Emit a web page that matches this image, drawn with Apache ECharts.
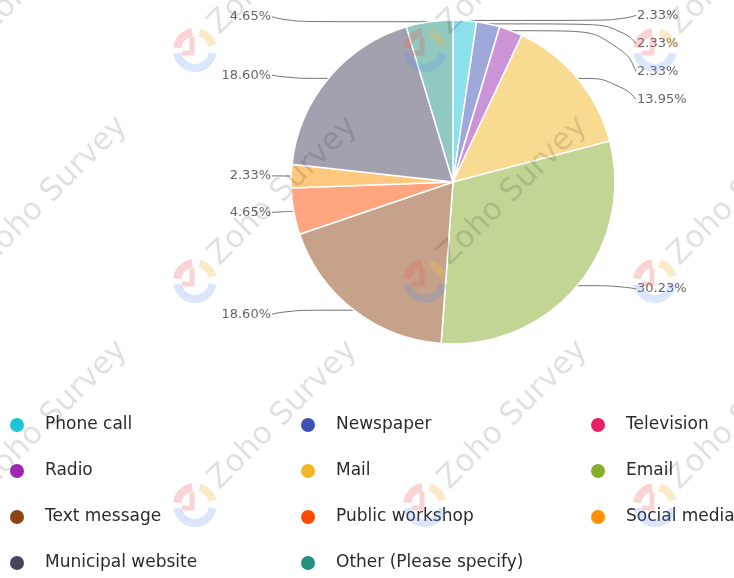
<!DOCTYPE html>
<html><head><meta charset="utf-8">
<script src="https://cdn.jsdelivr.net/npm/echarts@6/dist/echarts.min.js"></script>
<style>html,body{margin:0;padding:0;background:#fff}#c{width:734px;height:578px}</style>
</head><body><div id="c"></div>
<script>
// ---- data ----
const categories = ['Phone call','Newspaper','Television','Radio','Mail','Email','Text message','Public workshop','Social media','Municipal website','Other (Please specify)'];
const percents = [2.33, 2.33, 0, 2.33, 13.95, 30.23, 18.60, 4.65, 2.33, 18.60, 4.65];
const colors = ['#1cc4d8','#3f51b5','#e91e63','#9c27b0','#f4b523','#85ac2a','#8b4513','#ff4c00','#ff9100','#47445f','#249180'];
const legendColumns = [[0,3,6,9],[1,4,7,10],[2,5,8]];
const watermarkText = 'Zoho Survey';

// ---- layout constants ----
const CX = 453, CY = 182, R = 162;
const LEFT_END = 272, RIGHT_END = 636;

function rgba(hex, a){
  const n = parseInt(hex.slice(1),16);
  return 'rgba('+((n>>16)&255)+','+((n>>8)&255)+','+(n&255)+','+a+')';
}

const chart = echarts.init(document.getElementById('c'));

const legends = legendColumns.map((idxs, k) => ({
  orient: 'vertical',
  left: [10, 301, 591][k],
  top: 415,
  height: 170,
  padding: 0,
  icon: 'circle',
  itemWidth: 14,
  itemHeight: 14,
  itemGap: 26,
  selectedMode: false,
  textStyle: {fontSize: 17, fontFamily: 'DejaVu Sans', color: '#2b2b2b', lineHeight: 20, padding: [0,0,0,16]},
  data: idxs.map(i => ({name: categories[i], itemStyle: {color: colors[i], opacity: 1, borderWidth: 0}}))
}));

// watermark decoration
const wm = [];
const wmCols = [-35, 195, 425, 655], wmRows = [50, 281, 505];
wmRows.forEach(y => wmCols.forEach(x => {
  wm.push({type:'arc', silent:true, z:100, shape:{cx:x, cy:y, r:18, startAngle:0.06*Math.PI, endAngle:0.94*Math.PI}, style:{stroke:'rgba(90,140,240,0.22)', lineWidth:8, fill:null}});
  wm.push({type:'arc', silent:true, z:100, shape:{cx:x, cy:y, r:18, startAngle:1.04*Math.PI, endAngle:1.45*Math.PI}, style:{stroke:'rgba(235,90,90,0.26)', lineWidth:8, fill:null}});
  wm.push({type:'arc', silent:true, z:100, shape:{cx:x, cy:y, r:18, startAngle:1.58*Math.PI, endAngle:1.92*Math.PI}, style:{stroke:'rgba(240,190,80,0.32)', lineWidth:8, fill:null}});
  wm.push({type:'polyline', silent:true, z:100, shape:{points:[[x-13,y+3],[x-3,y+3],[x-3,y-13]]}, style:{stroke:'rgba(235,90,90,0.26)', lineWidth:5, fill:null}});
  wm.push({type:'text', silent:true, z:100, x:x+88, y:y-90, rotation:Math.PI/4,
    style:{text: watermarkText, font:'31px "DejaVu Sans"', fill:'rgba(0,0,0,0.12)', align:'center', verticalAlign:'middle', textAlign:'center', textVerticalAlign:'middle'}});
}));

chart.setOption({
  backgroundColor: '#ffffff',
  animation: false,
  legend: legends,
  graphic: {elements: wm},
  series: [{
    type: 'pie',
    center: [CX, CY],
    radius: R,
    startAngle: 90,
    clockwise: true,
    avoidLabelOverlap: true,
    emphasis: {disabled: true},
    itemStyle: {borderColor: '#ffffff', borderWidth: 1.5},
    label: {
      show: true, position: 'outside',
      formatter: p => p.value.toFixed(2) + '%',
      fontSize: 13, fontFamily: 'DejaVu Sans', color: '#666666', lineHeight: 26
    },
    labelLine: {show: true, length: 5, length2: 12, smooth: 0.6, lineStyle: {color: '#707070', width: 1}},
    labelLayout: function (p) {
      const pts = p.labelLinePoints;
      if (!pts || pts.length < 3) return {};
      const isLeft = pts[2][0] < pts[0][0];
      const y = pts[2][1];
      const xe = isLeft ? LEFT_END : RIGHT_END;
      const mid = [isLeft ? xe + 18 : xe - 18, pts[0][1]];
      return {
        x: isLeft ? xe - 1 : xe + 1, y: y,
        align: isLeft ? 'right' : 'left', verticalAlign: 'middle',
        labelLinePoints: [pts[0], mid, [xe, y]]
      };
    },
    data: categories.map((n, i) => {
      const d = {name: n, value: percents[i], itemStyle: {color: rgba(colors[i], 0.5)}};
      if (percents[i] === 0) { d.label = {show: false}; d.labelLine = {show: false}; }
      return d;
    })
  }]
});
</script></body></html>
